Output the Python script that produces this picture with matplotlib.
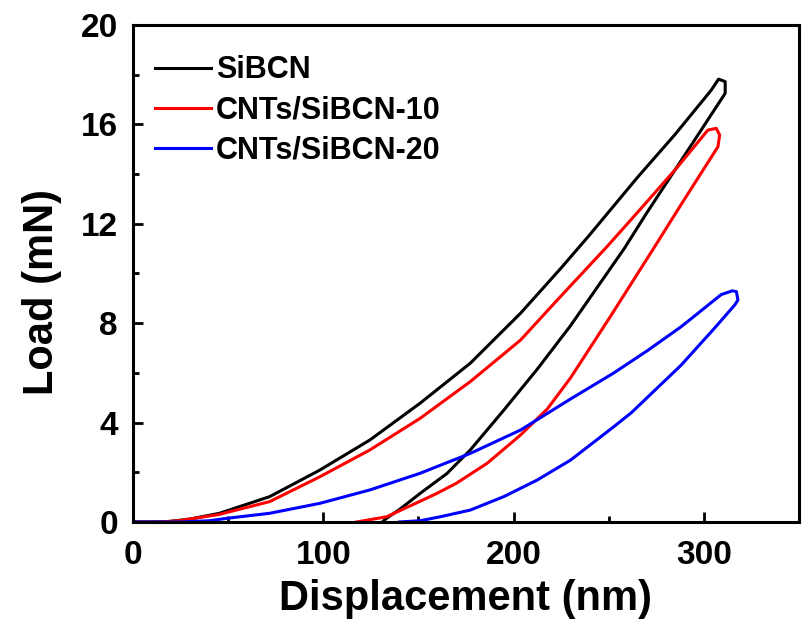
import matplotlib
matplotlib.use("Agg")
import matplotlib.pyplot as plt
from matplotlib.ticker import MultipleLocator

# 荷重-変位曲線 (負荷 → 除荷) -------------------------------------------------
labels = ["SiBCN", "CNTs/SiBCN-10", "CNTs/SiBCN-20"]
colors = ["black", "red", "blue"]

# SiBCN
sibcn_load_x = [0, 12, 19, 30, 45.4, 71.8, 98.2, 124.5, 150.9, 177.3, 203.7, 224.8, 240, 265, 285, 304, 307.8]
sibcn_load_y = [0, 0, 0.02, 0.12, 0.35, 1.02, 2.09, 3.3, 4.78, 6.39, 8.4, 10.2, 11.55, 13.85, 15.6, 17.38, 17.82]
sibcn_unload_x = [311.3, 311.3, 309.6, 290, 270, 258.2, 230, 212.5, 194.9, 177.3, 165, 150.9, 140, 133.3, 131]
sibcn_unload_y = [17.72, 17.25, 17.05, 14.76, 12.43, 11.0, 7.9, 6.15, 4.5, 2.9, 1.95, 1.15, 0.5, 0.15, 0]

# CNTs/SiBCN-10
cnt10_load_x = [0, 15, 25, 45, 71.8, 98.2, 124.5, 150.9, 177.3, 203.7, 223, 249.4, 268.6, 286.4, 302.2, 306.6]
cnt10_load_y = [0, 0, 0.06, 0.3, 0.82, 1.82, 2.9, 4.17, 5.65, 7.32, 8.93, 11.1, 12.75, 14.3, 15.77, 15.84]
cnt10_unload_x = [308.4, 307.5, 290, 274, 251.2, 230, 217.8, 203.7, 186.1, 170, 159.7, 152.5, 133.3, 117.5]
cnt10_unload_y = [15.57, 15.1, 13.0, 11.05, 8.3, 5.8, 4.55, 3.5, 2.36, 1.56, 1.15, 0.89, 0.21, 0]

# CNTs/SiBCN-20
cnt20_load_x = [0, 25, 40, 50.7, 71.8, 98.2, 124.5, 150.9, 177.3, 203.7, 230, 252.8, 270.5, 288, 297, 309.2, 315, 317.2]
cnt20_load_y = [0, 0, 0.05, 0.16, 0.35, 0.75, 1.29, 1.96, 2.76, 3.7, 4.95, 6.0, 6.9, 7.85, 8.4, 9.15, 9.3, 9.27]
cnt20_unload_x = [318, 316.3, 305.7, 288, 262, 253, 230, 212.5, 194.9, 177.3, 161.5, 150.9, 140]
cnt20_unload_y = [8.93, 8.73, 7.8, 6.3, 4.4, 3.85, 2.49, 1.69, 1.02, 0.48, 0.21, 0.05, 0]

curves = [
    (sibcn_load_x + sibcn_unload_x, sibcn_load_y + sibcn_unload_y),
    (cnt10_load_x + cnt10_unload_x, cnt10_load_y + cnt10_unload_y),
    (cnt20_load_x + cnt20_unload_x, cnt20_load_y + cnt20_unload_y),
]

plt.rcParams["font.family"] = ["Liberation Sans", "DejaVu Sans"]
plt.rcParams["font.weight"] = "bold"

fig = plt.figure(figsize=(8.02, 6.27), dpi=100)
ax = fig.add_axes([0.166, 0.1675, 0.830, 0.7927])

for (xs, ys), c, lab in zip(curves, colors, labels):
    ax.plot(xs, ys, color=c, lw=2.2, label=lab, solid_joinstyle="round")

ax.set_xlim(0, 350)
ax.set_ylim(0, 20)
ax.xaxis.set_major_locator(MultipleLocator(100))
ax.xaxis.set_minor_locator(MultipleLocator(50))
ax.yaxis.set_major_locator(MultipleLocator(4))
ax.yaxis.set_minor_locator(MultipleLocator(2))

ax.tick_params(which="both", direction="in", top=False, right=False, width=2)
ax.tick_params(which="major", length=7, labelsize=24)
ax.tick_params(which="minor", length=4)
ax.tick_params(axis="x", pad=13)
ax.tick_params(axis="y", pad=11)
for sp in ax.spines.values():
    sp.set_linewidth(2.2)

ax.set_xlabel("Displacement (nm)", fontsize=30, fontweight="bold", labelpad=6)
ax.set_ylabel("Load (mN)", fontsize=30, fontweight="bold")
ax.yaxis.set_label_coords(-0.107, 0.463)

ax.legend(loc="upper left", frameon=False, fontsize=22, handlelength=1.85,
          handletextpad=0.16, labelspacing=0.33, borderaxespad=0.3,
          bbox_to_anchor=(0.0, 0.982))

fig.savefig("out.png", dpi=100)
